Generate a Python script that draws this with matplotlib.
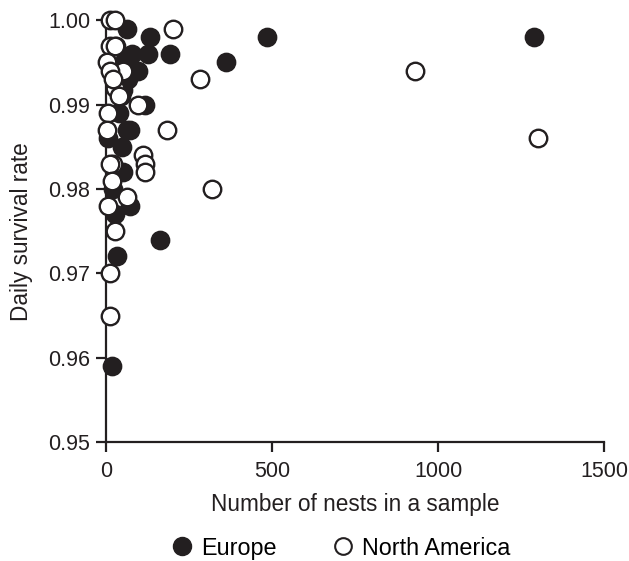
import matplotlib
matplotlib.use("Agg")
import matplotlib.pyplot as plt
from matplotlib.lines import Line2D

plt.rcParams['font.family'] = ['Liberation Sans', 'DejaVu Sans']

europe_n = [1290, 485, 360, 193, 133, 127, 163, 18, 63, 78, 96, 66, 51, 117, 63, 72, 6,
            48, 51, 72, 27, 33, 40, 55, 45, 30, 20]
europe_dsr = [0.998, 0.998, 0.995, 0.996, 0.998, 0.996, 0.974, 0.959, 0.999, 0.996, 0.994,
              0.993, 0.9917, 0.990, 0.987, 0.987, 0.986, 0.985, 0.982, 0.978, 0.977, 0.972,
              0.989, 0.995, 0.991, 0.997, 0.980]

na_n = [1300, 930, 320, 283, 202, 183, 111, 117, 117, 96, 51, 63, 12, 27, 12, 27, 3, 12,
        27, 6, 3, 21, 12, 18, 6, 27, 12, 12, 40, 20]
na_dsr = [0.986, 0.994, 0.980, 0.993, 0.999, 0.987, 0.984, 0.983, 0.982, 0.990, 0.994,
          0.979, 1.000, 1.000, 0.997, 0.997, 0.995, 0.994, 0.992, 0.989, 0.987, 0.983,
          0.983, 0.981, 0.978, 0.975, 0.970, 0.965, 0.991, 0.993]

ink = '#231f20'
fig = plt.figure(figsize=(6.29, 5.61), dpi=100)
ax = fig.add_axes([0.1685, 0.212, 0.792, 0.752])

ax.plot(europe_n, europe_dsr, 'o', ms=13.2, mfc=ink, mec=ink, mew=1.0,
        clip_on=False, zorder=3)
ax.plot(na_n, na_dsr, 'o', ms=12.6, mfc='white', mec=ink, mew=1.7,
        clip_on=False, zorder=4)

ax.set_xlim(0, 1500)
ax.set_ylim(0.95, 1.0)
ax.set_xticks([0, 500, 1000, 1500])
ax.set_yticks([0.95, 0.96, 0.97, 0.98, 0.99, 1.00])
ax.set_yticklabels(['0.95', '0.96', '0.97', '0.98', '0.99', '1.00'])
for s in ['top', 'right']:
    ax.spines[s].set_visible(False)
for s in ['left', 'bottom']:
    ax.spines[s].set_linewidth(1.6)
    ax.spines[s].set_color(ink)
ax.tick_params(direction='out', length=7.5, width=1.6, color=ink,
               labelsize=15.5, labelcolor=ink)
ax.tick_params(axis='x', pad=6)
ax.tick_params(axis='y', pad=4)
ax.set_xlabel('Number of nests in a sample', fontsize=16.3, color=ink, labelpad=8)
ax.set_ylabel('Daily survival rate', fontsize=16.3, color=ink, labelpad=11)

handles = [Line2D([], [], marker='o', ls='', ms=13, mfc=ink, mec=ink),
           Line2D([], [], marker='o', ls='', ms=12, mfc='white', mec=ink, mew=1.5)]
fig.legend(handles, ['Europe', 'North America'], loc='center', bbox_to_anchor=(0.54, 0.023),
           ncol=2, frameon=False, fontsize=16.8, handletextpad=0.25, columnspacing=2.3,
           handlelength=1.1)

fig.savefig('out.png', dpi=100)
